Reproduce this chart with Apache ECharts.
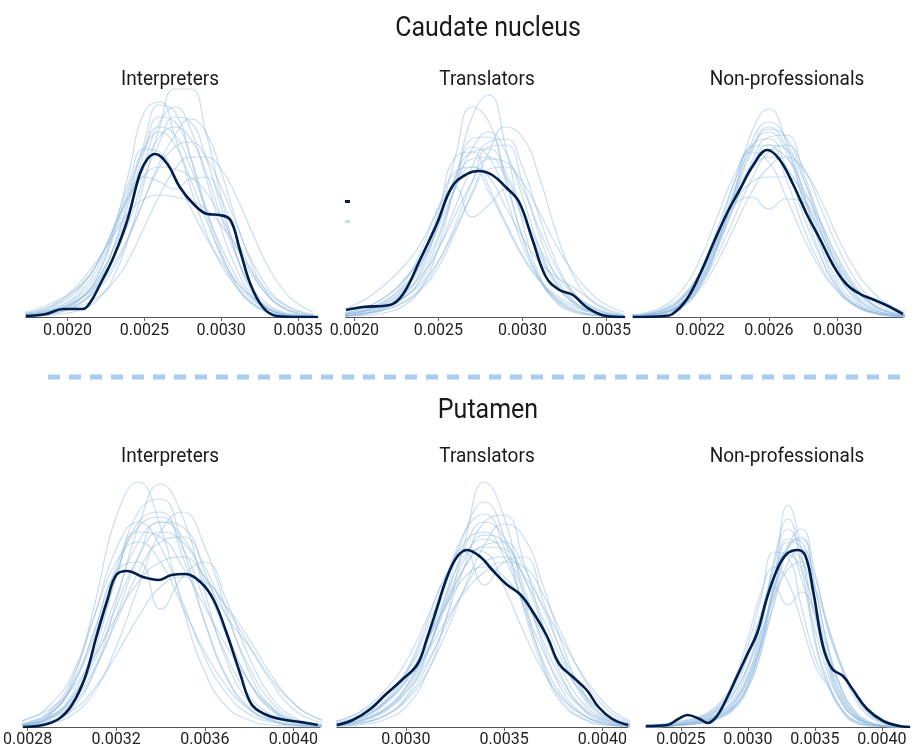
<!DOCTYPE html>
<html>
<head>
<meta charset="utf-8">
<title>Posterior predictive density overlays</title>
<script src="https://cdn.jsdelivr.net/npm/echarts@6/dist/echarts.min.js"></script>
<style>
  html, body { margin: 0; padding: 0; background: #fff; }
  #chart { width: 919px; height: 753px; }
</style>
</head>
<body>
<div id="chart"></div>
<script>
// ---- data: observed density (y) and replicated densities (y_rep), heights in plot units ----

// Caudate nucleus / Interpreters
const ciObsX = [0.00173,0.00186,0.00197,0.00210,0.00215,0.00221,0.00230,0.00239,0.00247,0.00252,0.00257,0.00265,0.00273,0.00282,0.00291,0.00299,0.00306,0.00312,0.00319,0.00327,0.00336,0.00351,0.00363];
const ciObsY = [1,3,8,8,15,32,60,97,143,158,163,153,130,113,103,102,97,68,33,10,1,0,0];
const ciRepX = [0.0017,0.0018,0.0019,0.0020,0.0021,0.0022,0.0023,0.0024,0.0025,0.0026,0.0027,0.0028,0.0029,0.0030,0.0031,0.0032,0.0033,0.0034,0.0035,0.0036];
const ciRep = [
  [0,1,2,4,8,18,40,80,135,190,228,228,185,120,62,25,9,3,1,0],
  [0,2,5,10,20,42,85,145,205,215,180,130,85,52,30,15,6,2,1,0],
  [1,2,4,8,16,35,70,120,175,212,205,160,105,60,30,13,5,2,1,0],
  [1,2,5,9,16,28,48,80,118,155,182,198,185,145,95,52,24,10,4,1],
  [0,1,3,7,15,32,62,105,155,195,210,188,140,88,48,22,9,3,1,0],
  [3,6,12,22,38,58,82,105,118,122,120,116,108,92,70,46,26,13,6,3],
  [2,4,8,14,25,45,80,125,168,185,172,138,98,62,35,18,8,3,1,0],
  [2,4,7,12,20,32,52,82,118,150,170,175,160,130,92,56,30,14,6,2],
  [1,3,6,12,22,40,68,108,150,180,190,178,145,100,60,30,13,5,2,1],
  [2,5,10,18,32,55,88,122,140,135,128,138,140,118,80,45,22,9,3,1],
  [4,8,14,22,34,55,90,135,168,165,140,110,80,55,35,20,10,4,2,1],
  [1,2,4,7,12,20,35,58,90,122,148,160,160,148,120,85,52,28,13,5],
  [1,2,5,10,20,38,70,115,165,200,195,160,110,65,32,14,5,2,1,0],
  [2,4,8,15,28,50,85,130,170,190,182,150,108,70,40,20,8,3,1,0],
  [1,3,6,11,20,36,60,95,140,175,200,195,160,110,62,28,10,3,1,0],
  [3,6,11,20,34,56,88,120,142,150,148,140,125,100,70,42,22,10,4,2]
];
const ciTicks = [0.0020,0.0025,0.0030,0.0035];

// Caudate nucleus / Translators
const ctObsX = [0.00195,0.00205,0.00221,0.00229,0.00239,0.00249,0.00258,0.00267,0.00274,0.00282,0.00290,0.00298,0.00306,0.00314,0.00322,0.00330,0.00338,0.00350,0.00361];
const ctObsY = [7,10,12,23,57,93,130,143,146,142,130,115,77,40,27,22,10,1,0];
const ctRepX = [0.0019,0.0020,0.0021,0.0022,0.0023,0.0024,0.0025,0.0026,0.0027,0.0028,0.0029,0.0030,0.0031,0.0032,0.0033,0.0034,0.0035,0.0036];
const ctRep = [
  [0,1,2,5,12,30,70,135,200,222,170,95,42,15,5,2,1,0],
  [1,2,5,10,22,48,95,160,210,195,140,80,38,16,6,2,1,0],
  [1,2,4,8,15,28,50,85,125,165,190,180,140,85,42,18,7,2],
  [3,6,12,22,38,62,105,160,165,130,95,62,38,22,12,6,3,1],
  [2,4,9,18,35,68,108,130,100,112,128,100,62,32,15,6,2,1],
  [2,4,8,15,28,52,92,140,170,160,120,72,38,18,8,3,1,0],
  [2,4,8,14,25,42,68,102,135,158,155,128,88,50,25,11,4,1],
  [1,2,5,10,20,40,78,130,178,180,135,80,40,18,7,3,1,0],
  [2,4,7,12,20,34,56,88,122,148,150,135,105,72,45,25,12,5],
  [6,12,22,35,52,75,110,145,150,125,92,60,36,20,10,5,2,1],
  [1,2,4,8,16,30,55,92,135,170,172,135,82,40,17,6,2,1],
  [2,5,10,18,32,55,90,128,150,140,110,80,55,40,30,18,8,3],
  [1,3,6,12,24,45,82,130,168,185,165,120,70,34,14,5,2,1],
  [2,4,8,16,30,55,95,140,165,168,145,105,65,35,16,7,3,1],
  [1,2,5,10,20,38,68,110,150,175,178,150,100,55,25,10,4,1],
  [3,6,12,22,38,62,98,135,158,160,140,105,70,42,24,12,5,2]
];
const ctTicks = [0.0020,0.0025,0.0030,0.0035];

// Caudate nucleus / Non-professionals
const cnObsX = [0.00181,0.00199,0.00204,0.00212,0.00220,0.00228,0.00236,0.00243,0.00251,0.00259,0.00266,0.00274,0.00282,0.00290,0.00297,0.00305,0.00313,0.00320,0.00328,0.00338];
const cnObsY = [0,1,3,17,43,75,105,127,152,167,158,133,103,77,53,33,23,18,12,3];
const cnRepX = [0.0018,0.0019,0.0020,0.0021,0.0022,0.0023,0.0024,0.0025,0.0026,0.0027,0.0028,0.0029,0.0030,0.0031,0.0032,0.0033,0.0034];
const cnRep = [
  [0,1,3,10,30,70,125,185,208,175,115,62,28,11,4,1,0],
  [1,2,5,14,36,75,122,168,190,170,125,78,42,20,8,3,1],
  [0,1,4,12,32,68,112,155,180,182,145,95,50,22,8,3,1],
  [1,3,8,20,45,82,112,120,108,118,115,85,50,24,10,3,1],
  [1,3,8,20,45,88,135,170,172,138,90,52,26,12,5,2,1],
  [1,2,5,13,32,62,100,138,165,172,150,110,70,38,18,7,2],
  [2,4,10,22,45,80,118,148,160,150,120,84,52,28,13,5,2],
  [0,1,4,12,33,72,125,175,195,178,125,70,32,12,4,1,0],
  [2,5,12,28,58,100,142,165,155,120,80,48,26,12,5,2,1],
  [1,2,5,12,28,55,90,125,150,160,148,118,80,48,26,12,5],
  [1,2,6,16,40,82,135,172,178,150,102,60,30,13,5,2,1],
  [1,3,8,19,42,76,112,135,140,140,125,95,60,32,14,5,2],
  [1,2,6,16,38,78,128,170,185,165,120,72,36,15,6,2,1],
  [0,2,5,14,35,72,120,165,188,180,140,88,45,18,6,2,0],
  [1,3,8,19,42,80,120,152,168,160,130,90,55,28,12,4,1],
  [1,2,6,15,36,70,112,150,172,168,138,96,58,30,13,5,2]
];
const cnTicks = [0.0022,0.0026,0.0030];

// Putamen / Interpreters
const piObsX = [0.00278,0.00287,0.00294,0.00300,0.00306,0.00311,0.00316,0.00320,0.00325,0.00332,0.00339,0.00345,0.00351,0.00358,0.00364,0.00370,0.00376,0.00381,0.00387,0.00394,0.00403,0.00411];
const piObsY = [0,2,8,22,50,90,127,152,156,150,147,152,153,145,127,93,53,23,13,8,5,2];
const piRepX = [0.0027,0.0028,0.0029,0.0030,0.0031,0.0032,0.0033,0.0034,0.0035,0.0036,0.0037,0.0038,0.0039,0.0040,0.0041,0.0042];
const piRep = [
  [0,2,12,45,120,210,245,200,120,55,20,7,2,1,0,0],
  [0,1,5,18,55,125,200,243,210,135,65,25,8,2,1,0],
  [0,1,4,12,35,80,140,195,215,180,115,55,20,6,2,0],
  [1,3,12,40,95,155,165,118,150,165,125,70,30,10,3,1],
  [1,4,14,40,90,155,200,210,180,125,70,32,12,4,1,0],
  [1,3,10,28,65,120,170,195,185,150,110,80,45,18,6,2],
  [2,5,16,48,110,178,205,180,125,70,33,13,5,2,1,0],
  [1,3,9,25,58,105,155,185,190,160,110,60,25,8,3,1],
  [1,2,8,28,75,150,215,228,180,105,48,18,6,2,1,0],
  [3,8,18,38,70,110,145,165,170,150,118,82,48,24,10,4],
  [3,8,22,52,110,165,185,165,120,75,40,18,7,3,1,0],
  [1,2,6,16,38,72,110,140,150,145,120,88,52,24,9,3],
  [1,3,10,32,80,150,205,215,170,105,50,20,7,2,1,0],
  [1,3,10,30,70,130,185,205,190,145,90,45,18,6,2,1],
  [1,4,14,42,95,160,195,190,160,120,80,45,20,7,2,1],
  [1,3,8,22,55,110,170,205,200,155,95,45,17,5,2,0]
];
const piTicks = [0.0028,0.0032,0.0036,0.0040];

// Putamen / Translators
const ptObsX = [0.00265,0.00273,0.00282,0.00290,0.00298,0.00306,0.00311,0.00316,0.00321,0.00326,0.00331,0.00338,0.00344,0.00351,0.00358,0.00364,0.00372,0.00378,0.00385,0.00392,0.00398,0.00405,0.00413];
const ptObsY = [2,7,18,33,47,63,90,120,150,170,177,170,157,143,133,117,90,63,50,37,20,8,2];
const ptRepX = [0.0026,0.0027,0.0028,0.0029,0.0030,0.0031,0.0032,0.0033,0.0034,0.0035,0.0036,0.0037,0.0038,0.0039,0.0040,0.0041,0.0042];
const ptRep = [
  [0,1,3,8,20,50,105,185,245,210,130,62,25,9,3,1,0],
  [1,3,8,18,40,80,140,195,213,180,120,65,30,12,4,1,0],
  [1,2,5,12,26,52,92,140,182,203,190,140,80,35,12,4,1],
  [2,5,12,28,55,100,150,175,142,165,170,125,70,30,10,3,1],
  [2,5,12,26,52,95,145,185,195,170,122,75,40,18,7,2,1],
  [2,5,12,25,48,82,122,160,182,185,160,118,72,36,15,5,2],
  [4,9,20,38,65,105,150,178,175,140,95,55,28,12,5,2,1],
  [1,2,5,12,28,58,105,162,205,212,165,100,48,18,6,2,0],
  [2,4,9,18,35,62,100,138,165,170,152,120,85,52,26,10,3],
  [1,2,5,12,30,68,130,195,225,190,118,58,22,8,2,1,0],
  [3,7,14,26,45,72,105,135,155,165,160,132,90,50,22,8,3],
  [4,9,18,32,55,85,120,150,160,150,125,92,60,34,16,6,2],
  [1,3,7,16,35,70,125,180,205,190,140,80,35,13,4,1,0],
  [2,4,9,20,40,75,122,168,192,185,150,100,55,24,9,3,1],
  [1,3,8,18,38,72,118,160,180,178,150,108,65,32,12,4,1],
  [2,5,11,24,46,82,130,172,188,175,135,85,45,20,8,3,1]
];
const ptTicks = [0.0030,0.0035,0.0040];

// Putamen / Non-professionals
const pnObsX = [0.00224,0.00240,0.00248,0.00255,0.00264,0.00270,0.00277,0.00284,0.00292,0.00299,0.00307,0.00314,0.00322,0.00329,0.00337,0.00343,0.00349,0.00356,0.00363,0.00371,0.00378,0.00389,0.00401,0.00413,0.00421];
const pnObsY = [1,2,8,12,8,4,11,28,51,71,94,128,158,173,177,171,134,81,58,51,38,18,6,1,0];
const pnRepX = [0.0022,0.0023,0.0024,0.0025,0.0026,0.0027,0.0028,0.0029,0.0030,0.0031,0.0032,0.0033,0.0034,0.0035,0.0036,0.0037,0.0038,0.0039,0.0040,0.0041,0.0042];
const pnRep = [
  [0,0,1,2,3,5,9,18,38,78,150,222,175,90,45,18,5,2,1,0,0],
  [0,1,1,3,5,9,16,30,58,105,165,198,170,110,58,25,10,4,1,0,0],
  [0,0,1,2,4,7,13,25,48,88,140,182,188,140,80,38,15,5,2,1,0],
  [1,1,2,4,7,12,22,42,80,130,175,170,120,70,42,18,6,2,1,0,0],
  [0,1,2,3,6,11,20,38,70,112,140,122,135,112,65,30,12,4,1,0,0],
  [0,1,1,3,5,8,14,26,48,82,125,165,178,150,100,58,28,11,4,1,0],
  [0,0,1,2,4,7,12,24,50,98,170,208,160,85,42,16,4,1,0,0,0],
  [1,2,4,6,9,14,24,42,72,115,158,175,148,98,52,24,10,4,1,0,0],
  [0,0,1,2,3,6,11,20,40,75,128,180,198,155,95,60,32,14,5,2,1],
  [1,2,3,5,8,14,26,48,88,135,160,145,105,62,40,18,6,2,1,0,0],
  [0,0,1,2,3,6,10,20,42,85,148,188,185,125,62,25,9,3,1,0,0],
  [1,2,3,5,8,12,20,35,60,95,132,158,165,140,100,62,32,14,5,2,1],
  [0,0,1,2,4,7,12,22,44,85,140,185,180,125,65,28,10,3,1,0,0],
  [0,1,1,3,5,9,15,28,52,92,140,175,168,125,75,38,16,6,2,1,0],
  [0,0,1,2,3,6,11,21,42,82,135,178,190,140,78,35,13,4,1,0,0],
  [1,1,2,4,6,10,18,34,62,105,150,172,158,115,68,32,12,4,1,0,0]
];
const pnTicks = [0.0025,0.0030,0.0035,0.0040];

const regionTitles = ['Caudate nucleus', 'Putamen'];
const groupNames = ['Interpreters', 'Translators', 'Non-professionals'];

// ---- panels: data + axis range + placement ----
const panels = [
  { obsX: ciObsX, obsY: ciObsY, repX: ciRepX, rep: ciRep, ticks: ciTicks, min: 0.00173, max: 0.00363, box: { left: 26,  width: 292, top: 80,  height: 237 }, yMax: 237 },
  { obsX: ctObsX, obsY: ctObsY, repX: ctRepX, rep: ctRep, ticks: ctTicks, min: 0.00195, max: 0.00361, box: { left: 346, width: 279, top: 80,  height: 237 }, yMax: 237 },
  { obsX: cnObsX, obsY: cnObsY, repX: cnRepX, rep: cnRep, ticks: cnTicks, min: 0.00181, max: 0.00338, box: { left: 633, width: 270, top: 80,  height: 237 }, yMax: 237 },
  { obsX: piObsX, obsY: piObsY, repX: piRepX, rep: piRep, ticks: piTicks, min: 0.00278, max: 0.00412, box: { left: 13,  width: 307, top: 477, height: 250 }, yMax: 250 },
  { obsX: ptObsX, obsY: ptObsY, repX: ptRepX, rep: ptRep, ticks: ptTicks, min: 0.00265, max: 0.00413, box: { left: 337, width: 291, top: 477, height: 250 }, yMax: 250 },
  { obsX: pnObsX, obsY: pnObsY, repX: pnRepX, rep: pnRep, ticks: pnTicks, min: 0.00224, max: 0.00421, box: { left: 646, width: 264, top: 477, height: 250 }, yMax: 250 }
];

const DARK = '#011f4b';
const LIGHT = 'rgba(150,189,226,0.5)';
const FONT = 'Roboto, "Noto Sans", sans-serif';

const grids = [], xAxes = [], yAxes = [], series = [];

panels.forEach((p, i) => {
  grids.push(Object.assign({ containLabel: false }, p.box));

  xAxes.push({
    type: 'value',
    gridIndex: i,
    min: p.min,
    max: p.max,
    splitLine: { show: false },
    axisLine: { show: true, onZero: false, lineStyle: { color: '#555', width: 1.2 } },
    axisTick: { show: true, customValues: p.ticks, length: 4, lineStyle: { color: '#666' } },
    axisLabel: {
      customValues: p.ticks,
      margin: i < 3 ? 6 : 5,
      fontSize: 16,
      color: '#222',
      fontFamily: FONT,
      formatter: v => v.toFixed(4)
    }
  });

  yAxes.push({ type: 'value', gridIndex: i, min: 0, max: p.yMax, show: false });

  // replicated densities
  p.rep.forEach(curve => {
    series.push({
      name: 'y_rep',
      type: 'line',
      xAxisIndex: i,
      yAxisIndex: i,
      data: p.repX.map((x, k) => [x, curve[k]]),
      smooth: 0.5,
      symbol: 'none',
      silent: true,
      itemStyle: { color: '#c6dbef' },
      lineStyle: { color: LIGHT, width: 1.2 },
      z: 2
    });
  });

  // observed density
  series.push({
    name: 'y',
    type: 'line',
    xAxisIndex: i,
    yAxisIndex: i,
    data: p.obsX.map((x, k) => [x, p.obsY[k]]),
    smooth: 0.4,
    symbol: 'none',
    silent: true,
    itemStyle: { color: DARK },
    lineStyle: { color: DARK, width: 2.6 },
    z: 5
  });
});

// titles and separator
const titleText = (txt, x, y, size) => ({
  type: 'text',
  x: x, y: y,
  scaleY: 1.1,
  style: {
    text: txt,
    fontSize: size,
    fontFamily: FONT,
    fill: '#1a1a1a',
    align: 'center', verticalAlign: 'middle',
    textAlign: 'center', textVerticalAlign: 'middle'
  }
});

const colCenters = [170, 487, 787];
const graphics = [
  titleText(regionTitles[0], 488, 29, 25),
  titleText(regionTitles[1], 488, 411, 25),
  {
    type: 'line',
    shape: { x1: 48, y1: 377, x2: 908, y2: 377 },
    style: { stroke: '#a9cdf0', lineWidth: 5, lineDash: [12, 9] }
  }
];
groupNames.forEach((g, j) => {
  graphics.push(titleText(g, colCenters[j], 80, 19));
  graphics.push(titleText(g, colCenters[j], 457, 19));
});

const chart = echarts.init(document.getElementById('chart'), null, { renderer: 'canvas' });
chart.setOption({
  animation: false,
  backgroundColor: '#fff',
  textStyle: { fontFamily: FONT },
  legend: {
    data: [{ name: 'y', icon: 'rect' }, { name: 'y_rep', icon: 'rect' }],
    orient: 'vertical',
    left: 340,
    top: 195,
    itemWidth: 5,
    itemHeight: 3,
    itemGap: 17,
    selectedMode: false,
    formatter: () => '',
    textStyle: { fontSize: 1 }
  },
  grid: grids,
  xAxis: xAxes,
  yAxis: yAxes,
  series: series,
  graphic: graphics
});
</script>
</body>
</html>
